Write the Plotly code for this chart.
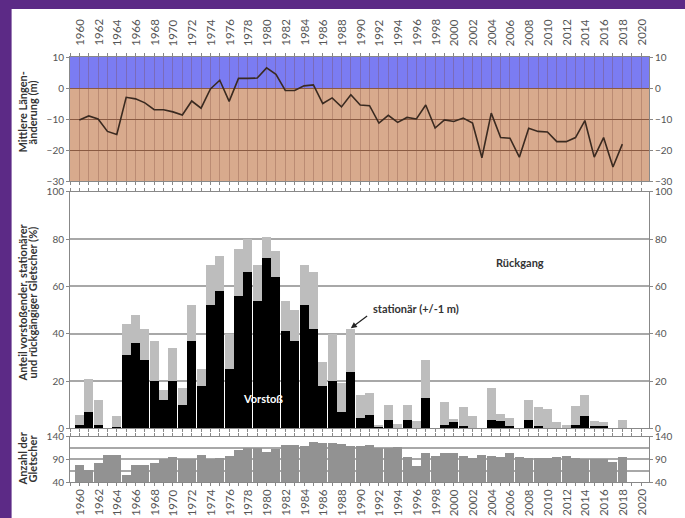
import plotly.graph_objects as go

years = list(range(1960, 2019))

length_change_m = [
    -10.3, -9.0, -10.0, -14.0, -15.0, -3.0, -3.5, -4.8, -7.0, -7.0,
    -7.7, -8.7, -4.2, -6.5, -0.3, 2.5, -4.3, 3.1, 3.1, 3.2,
    6.5, 4.4, -0.8, -0.8, 0.7, 1.0, -5.0, -3.2, -6.1, -2.2,
    -5.5, -5.7, -11.3, -8.8, -11.1, -9.5, -10.0, -5.5, -12.9, -10.3,
    -10.8, -9.7, -11.3, -22.5, -8.1, -16.0, -16.2, -22.3, -13.0, -14.0,
    -14.2, -17.3, -17.3, -16.0, -10.5, -22.3, -16.0, -25.5, -18.1,
]

advance_pct = [
    1.5, 7, 1.5, 0, 0.7, 31, 36, 29, 20, 12,
    20, 10, 37, 18, 52, 58, 25, 56, 66, 54,
    72, 64, 41, 37, 52, 42, 18, 20, 7, 24,
    4.5, 5.5, 1, 3.5, 0, 3.5, 0, 13, 0, 1.5,
    2.5, 1, 0, 0, 3.5, 3, 1, 0, 3.5, 1,
    0, 0, 0, 1.5, 5, 1, 1, 0, 0,
]

stationary_pct = [
    4.1, 14, 10.5, 0, 4.3, 13, 12, 13, 17, 4,
    14, 7, 15, 7, 17, 15, 15, 20, 14, 15,
    9, 11, 13, 13, 17, 24, 10, 20, 12, 18,
    9.5, 9.5, 0.5, 6.5, 2, 6.5, 3, 16, 0, 9.5,
    1.5, 8, 5, 0, 13.5, 3, 3.5, 0, 8.5, 8,
    8, 2.5, 1.5, 8, 9, 2, 1.5, 0, 3.5,
]

glacier_count = [
    78, 67, 82, 99, 99, 55, 78, 78, 82, 90,
    95, 90, 90, 100, 90, 92, 97, 110, 115, 115,
    107, 112, 121, 121, 120, 129, 127, 126, 124, 119,
    119, 122, 116, 114, 118, 95, 76, 105, 97, 103,
    103, 97, 93, 99, 98, 95, 103, 95, 94, 94,
    92, 95, 97, 93, 90, 90, 90, 84, 95,
]

tick_years = list(range(1959, 2021))
label_years = list(range(1960, 2021, 2))

PURPLE = "#5c2a86"
BLUE = "#7b7cf2"
TAN = "#d8aa8d"
TICK_COL = "#555555"
TITLE_COL = "#333333"
FONT = "Lato"

# layout geometry (pixels)
L, R, T, B = 70, 30, 57, 36
W, H = 685, 518
PW, PH = W - L - R, H - T - B
XR = [1959.0, 2020.85]

def px_x(px):
    return (px - L) / PW

def px_y(py):
    return (H - B - py) / PH

fig = go.Figure()

fig.add_trace(go.Bar(x=years, y=glacier_count, marker_color="#929292",
                     marker_line_width=0, xaxis="x", yaxis="y", showlegend=False))
fig.add_trace(go.Bar(x=years, y=advance_pct, marker_color="#000000",
                     marker_line_width=0, xaxis="x2", yaxis="y2", showlegend=False))
fig.add_trace(go.Bar(x=years, y=stationary_pct, marker_color="#bdbdbd",
                     marker_line_width=0, xaxis="x2", yaxis="y2", showlegend=False))
fig.add_trace(go.Scatter(x=years, y=length_change_m, mode="lines",
                         line=dict(color="#3a2a20", width=1.6),
                         xaxis="x3", yaxis="y3", showlegend=False))
for ya, yv in (("y4", 90), ("y5", 50), ("y6", 0)):
    fig.add_trace(go.Scatter(x=[1960], y=[yv], mode="markers", marker=dict(opacity=0),
                             xaxis="x", yaxis=ya, showlegend=False, hoverinfo="skip"))

tickfont = dict(family=FONT, size=10, color=TICK_COL)
yearfont = dict(family=FONT, size=11.5, color=TICK_COL)

d_bot = [0, px_y(436.7)]
d_mid = [px_y(428.3), px_y(191.8)]
d_top = [px_y(181), 1]

def xax(**kw):
    base = dict(range=XR, tickmode="array", tickvals=tick_years, showticklabels=False,
                ticks="outside", ticklen=3, tickcolor="#888", showline=True,
                linecolor="#888", linewidth=1, showgrid=False, zeroline=False,
                domain=[0, 1], mirror="ticks")
    base.update(kw)
    return base

def yax(**kw):
    base = dict(tickfont=tickfont, showline=True, linecolor="#888", ticks="outside",
                ticklen=3, tickcolor="#888", zeroline=False)
    base.update(kw)
    return base

fig.update_layout(
    width=W, height=H,
    margin=dict(l=L, r=R, t=T, b=B),
    paper_bgcolor=PURPLE, plot_bgcolor="rgba(0,0,0,0)",
    bargap=0.04, barmode="stack",
    font=dict(family=FONT),
    xaxis=xax(anchor="y"),
    xaxis2=xax(anchor="y2"),
    xaxis3=xax(anchor="y3", side="top", showgrid=True,
               gridcolor="rgba(120,70,55,0.30)", gridwidth=1),
    yaxis=yax(domain=d_bot, range=[40, 140], tickvals=[40, 90, 140], anchor="x",
              showgrid=True, gridcolor="#a8a8a8", gridwidth=1.5,
              minor=dict(tickvals=[65, 115], showgrid=True, gridcolor="#a8a8a8",
                         gridwidth=1.5)),
    yaxis2=yax(domain=d_mid, range=[0, 100], dtick=20, anchor="x2",
               showgrid=True, gridcolor="#a8a8a8", gridwidth=2),
    yaxis3=yax(domain=d_top, range=[-30, 10], dtick=10, anchor="x3",
               showgrid=True, gridcolor="#8a5a42", gridwidth=1),
    yaxis4=yax(overlaying="y", side="right", anchor="x", range=[40, 140],
               tickvals=[40, 90, 140], showgrid=False),
    yaxis5=yax(overlaying="y2", side="right", anchor="x2", range=[0, 100], dtick=20,
               showgrid=False),
    yaxis6=yax(overlaying="y3", side="right", anchor="x3", range=[-30, 10], dtick=10,
               showgrid=False),
)

shapes = [
    dict(type="rect", xref="paper", yref="paper", x0=px_x(11), x1=px_x(700),
         y0=px_y(540), y1=px_y(9), fillcolor="white", line_width=0, layer="below"),
    dict(type="rect", xref="paper", yref="y3", x0=0, x1=1, y0=0, y1=10,
         fillcolor=BLUE, line_width=0, layer="below"),
    dict(type="rect", xref="paper", yref="y3", x0=0, x1=1, y0=-30, y1=0,
         fillcolor=TAN, line_width=0, layer="below"),
]
fig.update_layout(shapes=shapes)

ann = []
# rotated year labels, top and bottom
for yr in label_years:
    for ypx in (32.5, 502.5):
        ann.append(dict(text=str(yr), x=yr, y=px_y(ypx), xref="x", yref="paper",
                        textangle=-90, showarrow=False, font=yearfont,
                        xanchor="center", yanchor="middle"))

tfont = dict(family=FONT, size=11, color=TITLE_COL, weight="bold")
for text, xpx, ypx in (
    ("Mittlere Längen-", 22, 112), ("änderung (m)", 32, 112),
    ("Anteil vorstoßender, stationärer", 22, 302), ("und rückgängiger Gletscher (%)", 32, 302),
    ("Anzahl der", 22, 458), ("Gletscher", 32, 458),
):
    ann.append(dict(text=text, x=px_x(xpx), y=px_y(ypx), xref="paper", yref="paper",
                    textangle=-90, showarrow=False, font=tfont,
                    xanchor="center", yanchor="middle"))

ann.append(dict(text="Vorstoß", x=1979.6, y=12.8, xref="x2", yref="y2", showarrow=False,
                font=dict(family=FONT, size=11, color="white", weight="bold")))
ann.append(dict(text="Rückgang", x=2007.1, y=70.3, xref="x2", yref="y2", showarrow=False,
                font=tfont))
ann.append(dict(text="stationär (+/-1 m)", x=1991.1, y=50.5, xref="x2", yref="y2",
                xanchor="left", yanchor="middle", showarrow=False, font=tfont))
ann.append(dict(text="", x=1989, y=42.3, xref="x2", yref="y2", ax=1990.9, ay=48.0,
                axref="x2", ayref="y2", showarrow=True, arrowhead=2, arrowsize=1,
                arrowwidth=1.2, arrowcolor="#222"))
fig.update_layout(annotations=ann)

fig.write_html(
    "out.html",
    config={"displayModeBar": False},
    post_script="document.body.style.margin='0';document.body.style.padding='0';"
                "document.body.style.overflow='hidden';",
)
